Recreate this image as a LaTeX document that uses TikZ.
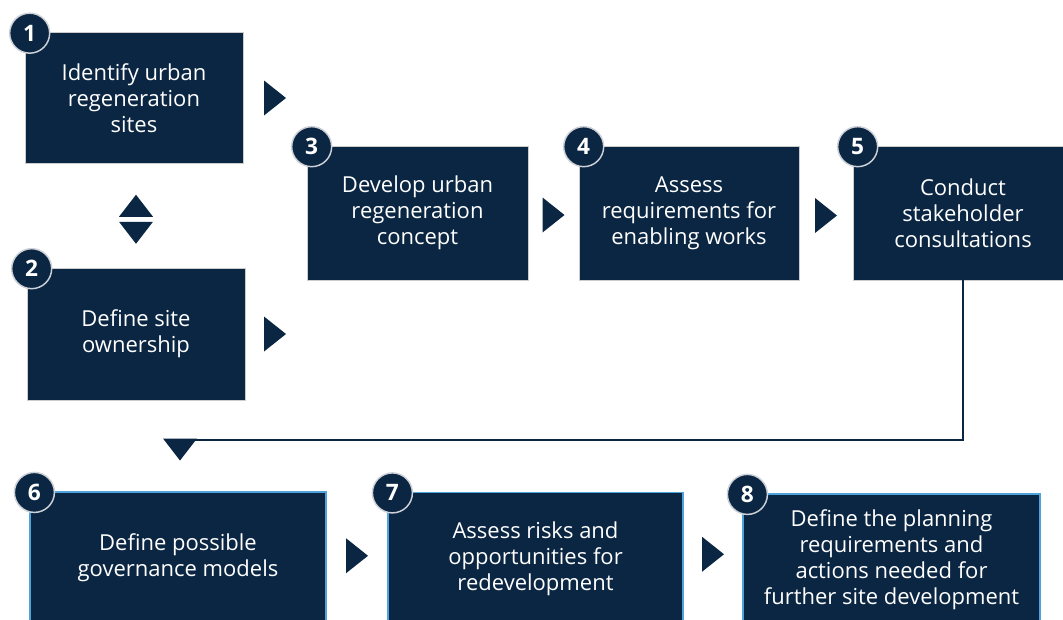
\documentclass[tikz,border=0pt]{standalone}
\usepackage{fontspec}
\setmainfont{Open Sans}
\usetikzlibrary{positioning, calc}
\definecolor{navy}{HTML}{0B2642}
\definecolor{edgeblue}{HTML}{4FA3DC}
\definecolor{ringgray}{HTML}{CDD2D8}

\tikzset{
  stepbox/.style={fill=navy, draw=gray!40, line width=0.5pt, text=white,
    align=center, inner sep=0pt, font=\fontsize{16.5}{19.5}\selectfont},
  lowbox/.style={stepbox, draw=edgeblue, line width=0.9pt},
  badge/.style={circle, fill=navy, draw=ringgray, line width=1.1pt,
    minimum size=30pt, inner sep=0pt, text=white,
    font=\fontsize{17}{17}\selectfont\bfseries},
  flow/.style={navy, line width=2.2pt},
  rtri/.pic={\fill[navy] (-11,-17.5) -- (11,0) -- (-11,17.5) -- cycle;},
  utri/.pic={\fill[navy] (-17,11) -- (0,-11) -- (17,11) -- cycle;},
  dtri/.pic={\fill[navy] (-17,-11) -- (0,11) -- (17,-11) -- cycle;},
}

\begin{document}
\begin{tikzpicture}[x=0.75pt, y=-0.75pt]
    \fill[white] (0,0) rectangle (1063,619);
    \useasboundingbox (0,0) rectangle (1063,619);
    \clip (0,0) rectangle (1063,619);

    % Top rows
    \node[stepbox, minimum width=218*0.75pt, minimum height=131*0.75pt] (s1) at (134,98)
        {Identify urban\\regeneration\\sites};
    \node[stepbox, minimum width=218*0.75pt, minimum height=132*0.75pt] (s2) at (136,334)
        {Define site\\ownership};
    \node[stepbox, minimum width=221*0.75pt, minimum height=134*0.75pt] (s3) at (417.5,213)
        {Develop urban\\regeneration\\concept};
    \node[stepbox, minimum width=220*0.75pt, minimum height=134*0.75pt] (s4) at (689,213)
        {Assess\\requirements for\\enabling works};
    \node[stepbox, minimum width=220*0.75pt, minimum height=134*0.75pt] (s5) at (963,213)
        {Conduct\\stakeholder\\consultations};

    % Bottom row
    \node[lowbox, minimum width=296*0.75pt, minimum height=132*0.75pt] (s6) at (178,558)
        {Define possible\\governance models};
    \node[lowbox, minimum width=295*0.75pt, minimum height=132*0.75pt] (s7) at (535.5,558.5)
        {Assess risks and\\opportunities for\\redevelopment};
    \node[lowbox, minimum width=297*0.75pt, minimum height=132*0.75pt] (s8) at (891.5,560)
        {Define the planning\\requirements and\\actions needed for\\further site development};

    % Number badges
    \foreach \i in {1,...,8}
        \node[badge] (n\i) at ($(s\i.north west)+(5,1)$) {\i};

    % Arrow heads between steps
    \coordinate (gap) at ($(s1.east)!0.5!(s3.west)$);
    \pic at (gap |- s1.east) {rtri};
    \pic at (gap |- s2.east) {rtri};
    \pic at ($($(s3.east)!0.5!(s4.west)$)+(0,2)$) {rtri};
    \pic at ($($(s4.east)!0.5!(s5.west)$)+(0,2.5)$) {rtri};
    \pic at ($($(s6.east)!0.5!(s7.west)$)+(0,-2.5)$) {rtri};
    \pic at ($($(s7.east)!0.5!(s8.west)$)+(0,-5)$) {rtri};

    % Two-way link between 1 and 2
    \coordinate (swap) at ($(s1.south)!0.5!(s2.north)+(1,3.5)$);
    \pic at ($(swap)+(0,-13.5)$) {utri};
    \pic at ($(swap)+(0,13.5)$) {dtri};

    % Return line from 5 down to 6
    \coordinate (drop) at (180,440);
    \draw[flow] (s5.south) |- (drop);
    \pic at ($(drop)+(0,9.5)$) {dtri};
\end{tikzpicture}
\end{document}
